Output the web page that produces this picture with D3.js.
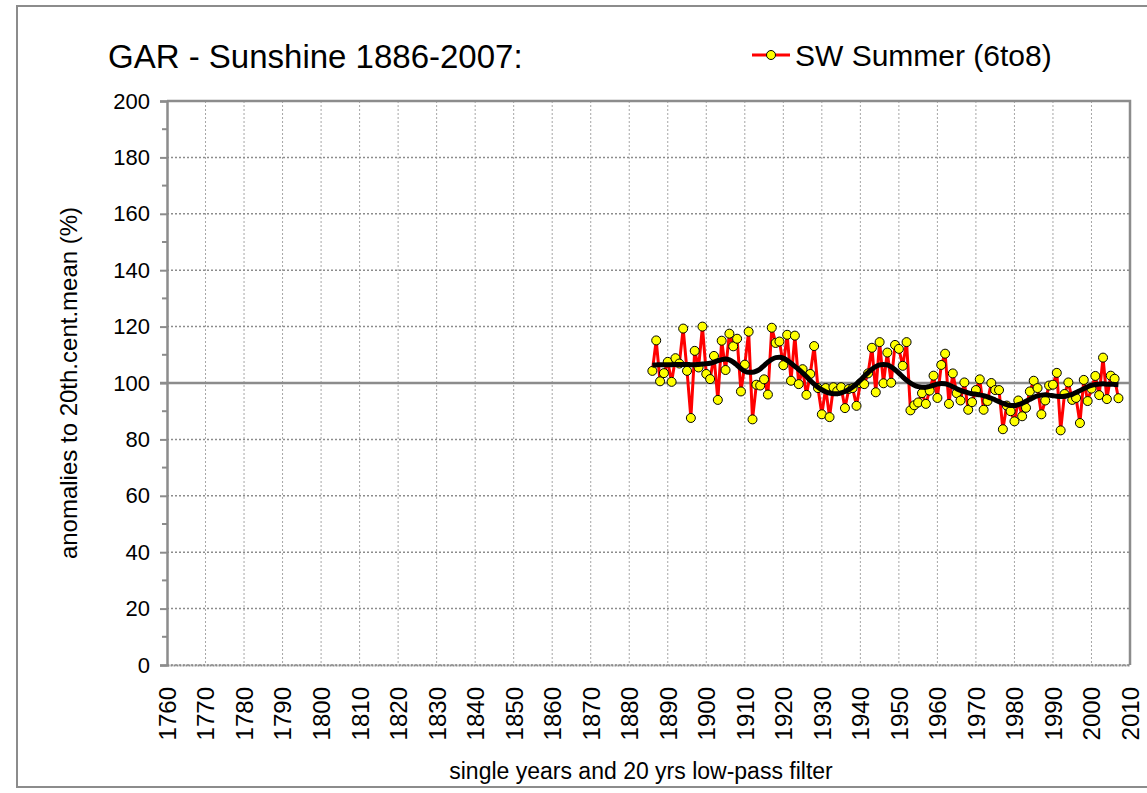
<!DOCTYPE html>
<html>
<head>
<meta charset="utf-8">
<title>GAR - Sunshine 1886-2007</title>
<script src="https://d3js.org/d3.v7.min.js"></script>
<style>
  body { margin: 0; background: #fff; }
  svg text { font-family: "Liberation Sans", Arial, sans-serif; fill: #000; }
</style>
</head>
<body>
<div id="chart"></div>
<script>
// years covered by the series
var firstYear = 1886, lastYear = 2007;

// single-year anomalies (%), 1886..2007
var summerValues = [
  104.3, 115.1, 100.6, 103.5, 107.5, 100.4, 108.8, 106.9, 119.3, 104.3,
  87.6, 111.4, 105.5, 120.0, 103.2, 101.4, 109.6, 94.0, 115.0, 104.6,
  117.5, 113.0, 115.7, 97.0, 106.5, 118.2, 87.1, 99.4, 99.1, 101.3,
  95.9, 119.6, 114.2, 114.7, 106.3, 117.1, 100.8, 116.8, 99.6, 104.9,
  95.8, 103.2, 113.1, 98.2, 88.9, 98.2, 87.9, 98.5, 97.1, 98.5,
  91.1, 97.9, 98.2, 91.9, 99.9, 99.6, 103.4, 112.5, 96.7, 114.5,
  99.9, 110.8, 100.1, 113.5, 112.1, 106.1, 114.5, 90.3, 92.1, 93.1,
  96.4, 92.6, 97.3, 102.6, 94.7, 106.4, 110.4, 92.6, 103.4, 96.4,
  93.8, 100.2, 90.5, 93.2, 97.5, 101.3, 90.5, 93.6, 100.0, 97.5,
  97.5, 83.6, 92.0, 90.0, 86.4, 93.8, 88.2, 91.2, 97.0, 100.8,
  98.2, 88.9, 93.8, 99.1, 99.4, 103.6, 83.2, 96.1, 100.2, 94.0,
  94.7, 85.8, 101.1, 93.6, 98.0, 102.5, 95.7, 109.0, 94.3, 102.6,
  101.5, 94.6
];

// 20 yrs low-pass filter curve, 1886..2007
var lowPassValues = [
  106.3, 106.4, 106.5, 106.5, 106.5, 106.5, 106.6, 106.6, 106.6, 106.6,
  106.5, 106.5, 106.6, 106.7, 106.8, 107.0, 107.4, 107.9, 108.3, 108.5,
  108.2, 107.4, 106.3, 105.1, 104.2, 103.8, 103.8, 104.2, 105.0, 106.2,
  107.4, 108.4, 109.0, 109.1, 108.8, 108.0, 107.0, 105.9, 104.8, 103.6,
  102.3, 100.9, 99.6, 98.5, 97.6, 96.9, 96.4, 96.2, 96.2, 96.5,
  97.0, 97.7, 98.6, 99.7, 101.0, 102.4, 103.7, 104.9, 105.8, 106.4,
  106.6, 106.4, 105.7, 104.7, 103.5, 102.2, 101.0, 100.0, 99.2, 98.7,
  98.5, 98.5, 98.8, 99.2, 99.6, 99.8, 99.7, 99.3, 98.7, 98.0,
  97.4, 96.9, 96.5, 96.2, 96.0, 95.8, 95.5, 95.1, 94.6, 94.0,
  93.4, 92.8, 92.3, 92.0, 92.0, 92.3, 92.8, 93.5, 94.2, 94.9,
  95.4, 95.7, 95.8, 95.7, 95.5, 95.3, 95.2, 95.3, 95.6, 96.0,
  96.6, 97.3, 98.0, 98.7, 99.2, 99.5, 99.6, 99.7, 99.6, 99.6,
  99.5, 99.4
];

// axis ticks
var xTicks = d3.range(1760, 2011, 10);
var yTicks = d3.range(0, 201, 20);
var yMinorTicks = d3.range(10, 200, 20);

var titleText = "GAR - Sunshine 1886-2007:";
var legendText = "SW Summer (6to8)";
var yTitle = "anomalies to 20th.cent.mean (%)";
var xTitle = "single years and 20 yrs low-pass filter";

var data = summerValues.map(function(v, i) {
  return { year: firstYear + i, value: v, smooth: lowPassValues[i] };
});

var W = 1147, H = 793;
var margin = { top: 101, right: 17, bottom: 128, left: 167 };
var width = W - margin.left - margin.right,
    height = H - margin.top - margin.bottom;

var svg = d3.select("#chart").append("svg")
    .attr("width", W)
    .attr("height", H);

// outer chart frame
svg.append("rect")
    .attr("x", 17).attr("y", 6)
    .attr("width", 1150).attr("height", 781)
    .attr("fill", "none")
    .attr("stroke", "#8c8c8c")
    .attr("stroke-width", 2);

var g = svg.append("g")
    .attr("transform", "translate(" + margin.left + "," + margin.top + ")");

var x = d3.scaleLinear().domain([1760, 2010]).range([0, width]);
var y = d3.scaleLinear().domain([0, 200]).range([height, 0]);

// vertical gridlines
g.selectAll(".vgrid")
  .data(xTicks.slice(1, -1))
  .enter().append("line")
    .attr("x1", function(d) { return x(d); })
    .attr("x2", function(d) { return x(d); })
    .attr("y1", 0).attr("y2", height)
    .attr("stroke", "#a6a6a6")
    .attr("stroke-width", 1)
    .attr("stroke-dasharray", "2,2");

// horizontal gridlines
g.selectAll(".hgrid")
  .data(yTicks.filter(function(d) { return d !== 100 && d !== 200; }))
  .enter().append("line")
    .attr("x1", 0).attr("x2", width)
    .attr("y1", function(d) { return y(d); })
    .attr("y2", function(d) { return y(d); })
    .attr("stroke", "#8c8c8c")
    .attr("stroke-width", 1.5)
    .attr("stroke-dasharray", "2,2");

// top and right border
g.append("path")
    .attr("d", "M0," + y(200) + "H" + width + "V" + height)
    .attr("fill", "none")
    .attr("stroke", "#8c8c8c")
    .attr("stroke-width", 2.5);

// 100 % reference line
g.append("line")
    .attr("x1", -7).attr("x2", width)
    .attr("y1", y(100)).attr("y2", y(100))
    .attr("stroke", "#8c8c8c")
    .attr("stroke-width", 2.5);

// y axis
var yAxis = g.append("g")
    .call(d3.axisLeft(y).tickValues(yTicks).tickSize(7).tickPadding(10));
yAxis.select(".domain").attr("stroke", "#8c8c8c").attr("stroke-width", 2.5);
yAxis.selectAll(".tick line").attr("stroke", "#8c8c8c").attr("stroke-width", 2);
yAxis.selectAll(".tick text")
    .style("font-size", "22px")
    .style("font-family", "Liberation Sans, Arial, sans-serif")
    .attr("fill", "#000");

g.selectAll(".ytickminor")
  .data(yMinorTicks)
  .enter().append("line")
    .attr("x1", -5).attr("x2", 0)
    .attr("y1", function(d) { return y(d); })
    .attr("y2", function(d) { return y(d); })
    .attr("stroke", "#8c8c8c")
    .attr("stroke-width", 2);

// x axis (labels only, rotated)
var xAxis = g.append("g")
    .attr("transform", "translate(0," + height + ")")
    .call(d3.axisBottom(x).tickValues(xTicks).tickSize(0).tickFormat(d3.format("d")));
xAxis.select(".domain")
    .attr("stroke", "#8c8c8c")
    .attr("stroke-width", 2)
    .attr("stroke-dasharray", "2,1");
xAxis.selectAll(".tick text")
    .style("font-size", "24px")
    .style("font-family", "Liberation Sans, Arial, sans-serif")
    .attr("fill", "#000")
    .attr("text-anchor", "end")
    .attr("dy", "0.35em")
    .attr("transform", "translate(0,22) rotate(-90)")
    .attr("y", 0)
    .attr("x", 0);

// single years: red line
g.append("path")
    .datum(data)
    .attr("fill", "none")
    .attr("stroke", "#ff0000")
    .attr("stroke-width", 3)
    .attr("stroke-linejoin", "round")
    .attr("d", d3.line()
      .x(function(d) { return x(d.year); })
      .y(function(d) { return y(d.value); }));

// markers
g.selectAll(".dot")
  .data(data)
  .enter().append("circle")
    .attr("cx", function(d) { return x(d.year); })
    .attr("cy", function(d) { return y(d.value); })
    .attr("r", 4.5)
    .attr("fill", "#ffff00")
    .attr("stroke", "#000")
    .attr("stroke-width", 1);

// low-pass line
g.append("path")
    .datum(data)
    .attr("fill", "none")
    .attr("stroke", "#000")
    .attr("stroke-width", 5)
    .attr("stroke-linejoin", "round")
    .attr("d", d3.line()
      .curve(d3.curveMonotoneX)
      .x(function(d) { return x(d.year); })
      .y(function(d) { return y(d.smooth); }));

// title
svg.append("text")
    .attr("x", 108).attr("y", 68)
    .style("font-size", "33px")
    .text(titleText);

// legend
svg.append("line")
    .attr("x1", 752).attr("x2", 790)
    .attr("y1", 55).attr("y2", 55)
    .attr("stroke", "#ff0000")
    .attr("stroke-width", 3);
svg.append("circle")
    .attr("cx", 771).attr("cy", 55).attr("r", 4.5)
    .attr("fill", "#ffff00")
    .attr("stroke", "#000")
    .attr("stroke-width", 1);
svg.append("text")
    .attr("x", 795).attr("y", 66)
    .style("font-size", "30px")
    .text(legendText);

// axis titles
svg.append("text")
    .attr("transform", "translate(77," + (margin.top + y(100)) + ") rotate(-90)")
    .attr("text-anchor", "middle")
    .style("font-size", "24px")
    .text(yTitle);

svg.append("text")
    .attr("x", 641).attr("y", 779)
    .attr("text-anchor", "middle")
    .style("font-size", "23px")
    .text(xTitle);
</script>
</body>
</html>
